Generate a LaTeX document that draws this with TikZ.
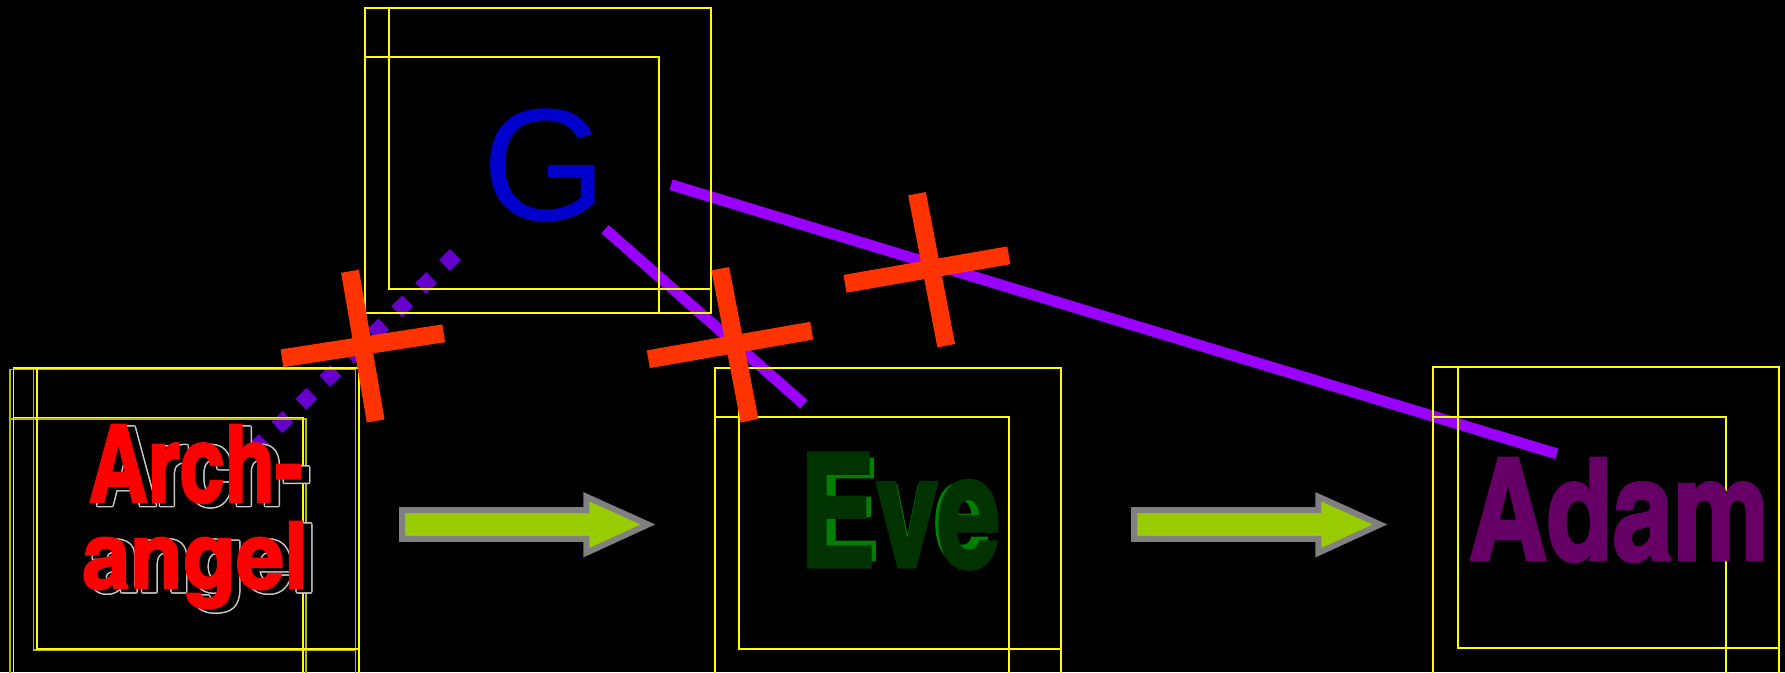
\documentclass[tikz,border=0pt]{standalone}
\usepackage{fontspec}
\usepackage{graphicx}
\setmainfont{Liberation Sans}
\newfontfamily\impact{texgyreheroscn-bold}[Extension=.otf, FakeBold=2]
\definecolor{yboxc}{HTML}{FFFF00}
\definecolor{ydimc}{HTML}{B8B800}
\definecolor{linepurple}{HTML}{9900FF}
\definecolor{dotpurple}{HTML}{6600CC}
\definecolor{crossred}{HTML}{FF3300}
\definecolor{arrowgreen}{HTML}{99CC00}
\definecolor{arrowgray}{HTML}{808080}
\definecolor{gblue}{HTML}{0000CC}
\definecolor{evedark}{HTML}{003300}
\definecolor{evelight}{HTML}{008000}
\definecolor{adamc}{HTML}{660066}
\definecolor{archred}{HTML}{FF0000}
\definecolor{shadowgray}{HTML}{C8C8C8}
\newcommand\archA{\resizebox{213pt}{77pt}{\fontsize{100}{100}\selectfont\impact Arch-}}
\newcommand\archB{\resizebox*{226pt}{87pt}{\fontsize{100}{100}\selectfont\impact angel}}
\newcommand\evetxt[2]{\resizebox{#1}{#2}{\fontsize{100}{100}\selectfont\impact Eve}}
\tikzset{
  ybox/.style={draw=yboxc, line width=1.5pt},
  ydim/.style={draw=ydimc, line width=1.3pt},
  conn/.style={draw=linepurple, line width=11pt},
  dotconn/.style={draw=dotpurple, line width=15.5pt, dash pattern=on 15.5pt off 17.8pt},
  crossbar/.style={draw=crossred, line width=18pt},
  blockarrow/.style={fill=arrowgreen, draw=arrowgray, line width=6pt, line join=miter},
  txt/.style={inner sep=0pt, outer sep=0pt, anchor=base west},
}
\begin{document}
\begin{tikzpicture}[x=1pt,y=-1pt]
\fill[black] (0,0) rectangle (1785,672);
\useasboundingbox (0,0) rectangle (1785,672);

% connector end points
\coordinate (gArchS) at (455.6,254.6);
\coordinate (gArchE) at (252.7,450.9);
\coordinate (gEveS) at (605,229.2);
\coordinate (gEveE) at (803.8,404.2);
\coordinate (gAdamS) at (671,184.7);
\coordinate (gAdamE) at (1556.7,453.8);

% connectors
\draw[dotconn] (gArchS) -- (gArchE);
\draw[conn] (gEveS) -- (gEveE);
\draw[conn] (gAdamS) -- (gAdamE);

% debug boxes: G
\draw[ybox] (365,8) rectangle (711,313);
\draw[ybox] (389,8) rectangle (711,289);
\draw[ybox] (365,57) rectangle (659,313);
% Arch-angel
\draw[ydim] (10,369.5) rectangle (355.5,674);
\draw[ydim] (33.5,369.5) rectangle (355.5,650);
\draw[ydim] (10,419) rectangle (306,674);
\draw[ybox] (13.5,368) rectangle (359,674);
\draw[ybox] (37,368) rectangle (359,649);
\draw[ybox] (13.5,417.5) rectangle (303,674);
% Eve
\draw[ybox] (715,368) rectangle (1061,674);
\draw[ybox] (739,368) rectangle (1061,649);
\draw[ybox] (715,417) rectangle (1009,674);
% Adam
\draw[ybox] (1433,367) rectangle (1779,674);
\draw[ybox] (1458,367) rectangle (1779,648);
\draw[ybox] (1433,417) rectangle (1726,674);

% block arrows
\draw[blockarrow] (402,510) -- (586.3,510) -- (586.3,496.7) -- (648,524.5)
  -- (586.3,552.8) -- (586.3,538.8) -- (402,538.8) -- cycle;
\begin{scope}[xshift=732pt]
\draw[blockarrow] (402,510) -- (586.3,510) -- (586.3,496.7) -- (648,524.5)
  -- (586.3,552.8) -- (586.3,538.8) -- (402,538.8) -- cycle;
\end{scope}

% G
\node[inner sep=0pt, font=\fontsize{160}{160}\selectfont, text=gblue] (G) at (544.5,165) {G};

% Arch-angel shadow (outlined)
\foreach \dx/\dy [count=\i] in {1.5/0,-1.5/0,0/1.5,0/-1.5,1.1/1.1,-1.1/1.1,1.1/-1.1,-1.1/-1.1} {
  \node[txt, text=shadowgray] (archSa\i) at (89+8+\dx,501.7+3+\dy) {\archA};
  \node[txt, text=shadowgray] (archSb\i) at (82+8+\dx,588.3+3+\dy) {\archB};
}
\node[txt, text=black] (archKa) at (97,504.7) {\archA};
\node[txt, text=black] (archKb) at (90,591.3) {\archB};
\node[txt, text=archred] (arch1) at (89,501.7) {\archA};
\node[txt, text=archred] (arch2) at (82,588.3) {\archB};

% Eve
\node[txt, text=evelight] (eveShadow) at (812,560) {\evetxt{178pt}{101pt}};
\node[txt, text=evedark] (eve) at (800,567) {\evetxt{200pt}{114pt}};

% Adam
\node[txt, text=adamc] (adam) at (1469,560) {\resizebox{300pt}{102pt}{\fontsize{100}{100}\selectfont\impact Adam}};

% crosses
\draw[crossbar] (350,271.3) -- (375.7,421);
\draw[crossbar] (282,358.3) -- (443.7,333.3);
\draw[crossbar] (720.3,268.7) -- (749.5,420.7);
\draw[crossbar] (648.3,359.2) -- (811.7,330.7);
\draw[crossbar] (917,193.7) -- (946.2,345.7);
\draw[crossbar] (845,283.8) -- (1008.8,255.3);
\end{tikzpicture}
\end{document}
